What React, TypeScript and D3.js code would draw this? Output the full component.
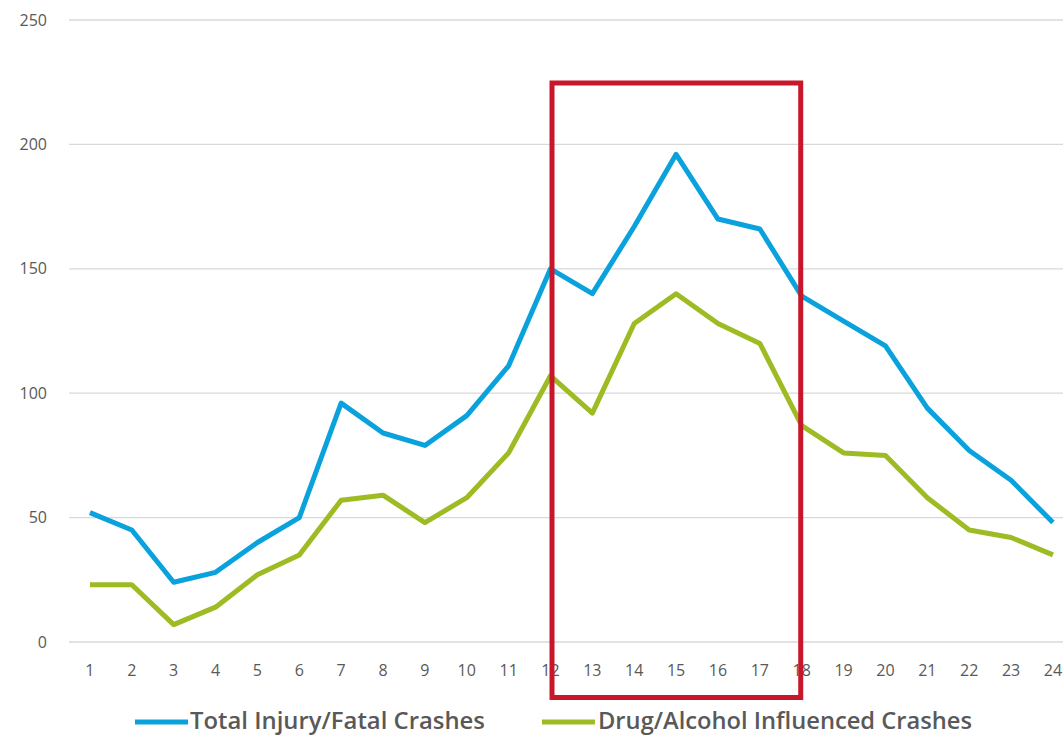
import React from "react";
import * as d3 from "d3";

const hours = Array.from({ length: 24 }, (_, i) => i + 1);
const totalCrashes = [52, 45, 24, 28, 40, 50, 96, 84, 79, 91, 111, 150, 140, 167, 196, 170, 166, 139, 129, 119, 94, 77, 65, 48];
const drugAlcoholCrashes = [23, 23, 7, 14, 27, 35, 57, 59, 48, 58, 76, 107, 92, 128, 140, 128, 120, 87, 76, 75, 58, 45, 42, 35];
const yTicks = [0, 50, 100, 150, 200, 250];
const seriesNames = ["Total Injury/Fatal Crashes", "Drug/Alcohol Influenced Crashes"];
const highlightRange = [12, 18];

const W = 1063;
const H = 735;
const BLUE = "#0AA2DC";
const GREEN = "#9DBB22";
const RED = "#C8172B";
const GRAY = "#595959";

export default function App() {
  const left = 69;
  const step = 41.87;
  const x = d3.scalePoint<number>().domain(hours).range([left + step / 2, left + step * 23.5]);
  const y = d3.scaleLinear().domain([0, 250]).range([642, 20]);
  const line = d3
    .line<number>()
    .x((_, i) => x(hours[i]) as number)
    .y((d) => y(d));

  const font = "'Open Sans', 'Noto Sans', sans-serif";
  const rx0 = (x(highlightRange[0]) as number) + 1.5;
  const rx1 = (x(highlightRange[1]) as number) - 1;

  return (
    <svg width={W} height={H} style={{ position: "absolute", left: 0, top: 0, background: "#fff" }}>
      {yTicks.map((t) => (
        <g key={t}>
          <line x1={left} x2={W + 20} y1={y(t)} y2={y(t)} stroke="#D9D9D9" strokeWidth={1.3} />
          <text x={47} y={y(t)} dy="0.35em" textAnchor="end" fontFamily={font} fontSize={16} fill={GRAY}>
            {t}
          </text>
        </g>
      ))}
      {hours.map((h) => (
        <text key={h} x={x(h)} y={670} dy="0.35em" textAnchor="middle" fontFamily={font} fontSize={16} fill={GRAY}>
          {h}
        </text>
      ))}
      <path d={line(totalCrashes) || ""} fill="none" stroke={BLUE} strokeWidth={5} strokeLinejoin="round" />
      <path d={line(drugAlcoholCrashes) || ""} fill="none" stroke={GREEN} strokeWidth={5} strokeLinejoin="round" />
      <rect x={rx0} y={83} width={rx1 - rx0} height={697.5 - 83} fill="none" stroke={RED} strokeWidth={5} />
      <g>
        <line x1={135} x2={188} y1={722} y2={722} stroke={BLUE} strokeWidth={5} />
        <text x={190} y={728.5} fontFamily={font} fontWeight={600} fontSize={23} fill={GRAY} textLength={295} lengthAdjust="spacingAndGlyphs">
          {seriesNames[0]}
        </text>
        <line x1={542} x2={595} y1={722} y2={722} stroke={GREEN} strokeWidth={5} />
        <text x={598} y={728.5} fontFamily={font} fontWeight={600} fontSize={23} fill={GRAY} textLength={374} lengthAdjust="spacingAndGlyphs">
          {seriesNames[1]}
        </text>
      </g>
    </svg>
  );
}
